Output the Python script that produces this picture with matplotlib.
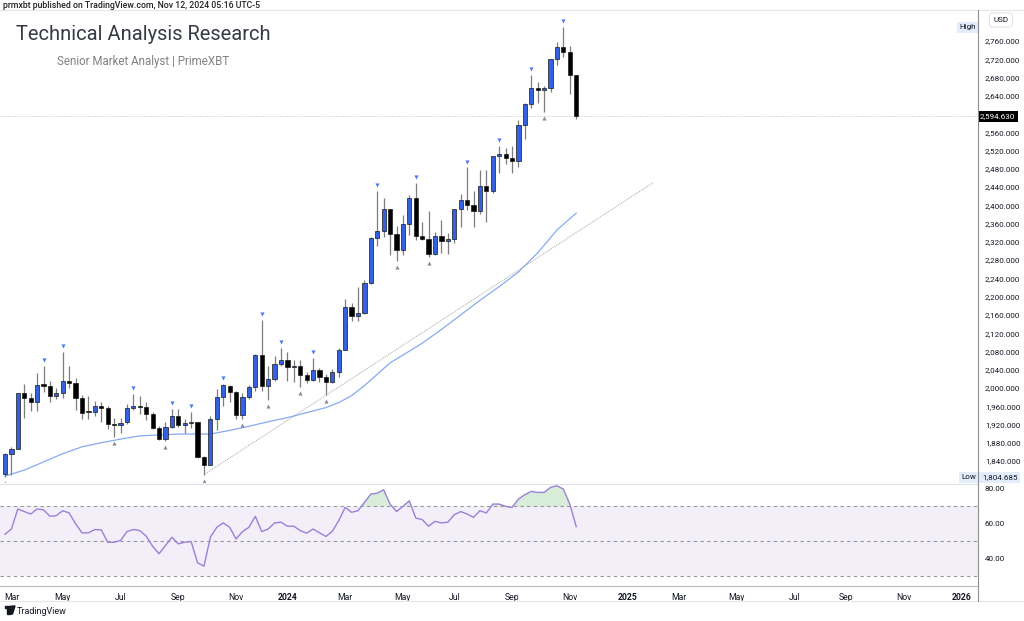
import numpy as np
import pandas as pd
import matplotlib
matplotlib.use('Agg')
import matplotlib.pyplot as plt
import matplotlib.dates as mdates
from matplotlib.lines import Line2D
from matplotlib.patches import Rectangle, Circle, Polygon

# weekly gold candles (Feb 27 2023 .. Nov 11 2024)
opens = [1811, 1856, 1867, 1988, 1978, 1969, 2008, 2004, 1983, 1989,
         2016, 2011, 1977, 1949, 1948, 1960, 1957, 1921, 1919, 1925,
         1955, 1961, 1959, 1943, 1913, 1889, 1914, 1939, 1919, 1924,
         1925, 1848, 1832, 1932, 1981, 2005, 1992, 1940, 1980, 2001,
         2072, 2004, 2019, 2053, 2062, 2045, 2049, 2029, 2018, 2039,
         2024, 2013, 2035, 2083, 2178, 2157, 2165, 2230, 2329, 2344,
         2391, 2337, 2302, 2360, 2415, 2333, 2327, 2293, 2333, 2321,
         2326, 2391, 2411, 2400, 2387, 2443, 2431, 2507, 2512, 2503,
         2497, 2577, 2621, 2658, 2653, 2656, 2720, 2747, 2736, 2685]
highs = [1858, 1870, 1990, 2009, 1988, 2032, 2048, 2015, 2000, 2079,
         2048, 2022, 1985, 1983, 1971, 1970, 1960, 1935, 1935, 1964,
         1987, 1982, 1970, 1948, 1916, 1925, 1953, 1953, 1932, 1947,
         1926, 1851, 1938, 1997, 2009, 2007, 1993, 1988, 2007, 2075,
         2148, 2047, 2070, 2088, 2078, 2062, 2062, 2036, 2065, 2044,
         2031, 2041, 2088, 2195, 2185, 2222, 2236, 2330, 2431, 2417,
         2392, 2354, 2378, 2422, 2450, 2364, 2387, 2342, 2368, 2339,
         2392, 2424, 2483, 2432, 2477, 2477, 2509, 2531, 2525, 2529,
         2586, 2625, 2685, 2670, 2661, 2721, 2758, 2790, 2750, 2686]
lows = [1804.685, 1809, 1866, 1934, 1949, 1950, 1992, 1969, 1975, 1977,
        1999, 1952, 1932, 1932, 1938, 1925, 1910, 1893, 1902, 1922,
        1951, 1942, 1929, 1910, 1885, 1884, 1913, 1915, 1901, 1913,
        1846, 1810, 1832, 1908, 1961, 1970, 1933, 1931, 1976, 1994,
        1993, 1973, 2016, 2049, 2016, 2013, 2001, 2010, 2016, 2014,
        1984, 2010, 2024, 2083, 2146, 2146, 2163, 2228, 2310, 2330,
        2291, 2277, 2291, 2334, 2325, 2323, 2286, 2291, 2296, 2293,
        2318, 2353, 2390, 2353, 2380, 2364, 2428, 2470, 2491, 2471,
        2485, 2546, 2614, 2625, 2604, 2648, 2708, 2724, 2643, 2589]
closes = [1855, 1867, 1988, 1979, 1969, 2006, 2005, 1983, 1989, 2016,
          2011, 1977, 1946, 1947, 1960, 1957, 1921, 1919, 1924, 1955,
          1961, 1959, 1943, 1913, 1889, 1914, 1939, 1919, 1924, 1925,
          1848, 1832, 1932, 1981, 2006, 1992, 1940, 1980, 2001, 2072,
          2004, 2019, 2053, 2062, 2045, 2049, 2029, 2018, 2039, 2024,
          2013, 2035, 2083, 2178, 2157, 2165, 2230, 2329, 2344, 2391,
          2337, 2302, 2360, 2415, 2333, 2327, 2293, 2333, 2321, 2326,
          2391, 2411, 2400, 2387, 2443, 2431, 2507, 2512, 2503, 2497,
          2577, 2621, 2658, 2653, 2656, 2720, 2747, 2736, 2685, 2594.63]

# pivot markers (candle numbers)
pivot_high_idx = [6, 9, 20, 26, 29, 34, 40, 43, 48, 58, 64, 72, 77, 82, 87]
pivot_low_idx = [0, 17, 25, 31, 37, 41, 46, 50, 61, 66, 84]

# moving average, read at some candles
ma_idx = [0, 3, 6, 9, 12, 15, 18, 21, 24, 27, 30, 32, 35, 38, 41, 44, 47,
          50, 52, 54, 56, 58, 60, 62, 65, 68, 71, 74, 77, 80, 83, 86, 89]
ma_val = [1807, 1820, 1838, 1856, 1871, 1880, 1888, 1895, 1897, 1899, 1899,
          1899, 1907, 1916, 1926, 1935, 1946, 1957, 1968, 1983, 2005, 2030,
          2055, 2072, 2098, 2128, 2160, 2192, 2222, 2254, 2296, 2346, 2383]

# trend line drawn by the author: (candle, price)
trend_pts = [(31, 1810), (101, 2450)]

rsi = [54, 57, 68.5, 67, 65.6, 68.5, 68, 64.3, 64.7, 67.5,
       66.2, 60, 54.8, 54.8, 56.7, 56.5, 49.4, 49.4, 50.4, 55.5,
       56.7, 56.1, 52.9, 47.1, 42.8, 47.5, 52.3, 48.5, 49.4, 49.8,
       37.6, 35.7, 52.3, 58, 60.5, 58, 51.3, 55.5, 58, 64.3,
       55.5, 57, 60.5, 60.9, 58.6, 58.6, 56.1, 54.6, 57, 54.8,
       52.7, 55.7, 61.8, 69.4, 66.6, 67.5, 72.3, 77, 77.6, 79.5,
       71.3, 67, 70, 73.2, 63.3, 62.4, 58.6, 61.4, 60.5, 60.9,
       65.2, 67, 65.6, 63.7, 67.5, 66.2, 71.3, 71.3, 70, 69.4,
       74.2, 76.7, 78.6, 78, 78, 80.9, 81.8, 79.9, 71.3, 58.4]

last_price = 2594.63
low_price = 1804.685

W, H = 1024, 621
def fx(px):
    return px / W
def fy(py):
    return 1 - py / H

plt.rcParams['font.family'] = ['Roboto', 'DejaVu Sans']
LBL = 5.8

fig = plt.figure(figsize=(W / 100, H / 100), dpi=100)
ax = fig.add_axes([0, fy(483), fx(978), (483 - 10) / H])
ax_rsi = fig.add_axes([0, fy(586), fx(978), (586 - 483) / H], sharex=ax)

start = pd.Timestamp('2023-02-27')
dates = pd.date_range(start, periods=len(closes), freq='7D')
x = mdates.date2num(dates)
o = np.array(opens, float)
h = np.array(highs, float)
l = np.array(lows, float)
c = np.array(closes, float)

def idx_x(i):
    return mdates.date2num(start + pd.Timedelta(days=7 * i))

up = c >= o
up_col = '#3461E0'
body_h = np.where(np.abs(c - o) < 2.5, np.where(up, 2.5, -2.5), c - o)

ax.vlines(x, l, h, color='#7d7d7d', lw=0.9, zorder=2)
ax.bar(x, body_h, bottom=o, width=4.6,
       color=np.where(up, up_col, '#000000'),
       edgecolor='#1a1a1a', linewidth=0.5, zorder=3)

# pivots
ph = np.array(pivot_high_idx)
pl = np.array(pivot_low_idx)
ax.scatter(x[ph], h[ph] + 13, marker='v', s=9, color='#4d7cf2', lw=0, zorder=4)
ax.scatter(x[pl], l[pl] - 13, marker='^', s=9, color='#8a8d96', lw=0, zorder=4)

# moving average
ax.plot(x[ma_idx], ma_val, color='#86abf3', lw=0.9, zorder=1)

# trend line
ax.plot([idx_x(p[0]) for p in trend_pts], [p[1] for p in trend_pts],
        color='#a8a8a8', lw=0.7, ls=(0, (1, 1)), zorder=1)

# current price line
ax.axhline(last_price, color='#cfc4c4', lw=0.7, ls=(0, (1, 1.5)), zorder=0)

x_left = idx_x(-0.78)
x_right = idx_x(151.6)
ax.set_xlim(x_left, x_right)
ax.set_ylim(1791.8, 2827.9)

yt = [v for v in range(1840, 2761, 40) if v != 2600]
ax.set_yticks(yt)
ax.set_yticklabels([f'{v:,.3f}' for v in yt])
ax.tick_params(axis='y', left=False, labelleft=False, right=True,
               labelright=True, length=0, pad=5, labelsize=LBL,
               labelcolor='#131722')
ax.tick_params(axis='x', bottom=False, labelbottom=False)
for s in ax.spines.values():
    s.set_visible(False)

# price labels on the axis
ax.text(1.002, last_price, '2,594.630', transform=ax.get_yaxis_transform(),
        fontsize=LBL, color='white', va='center', ha='left', clip_on=False,
        bbox=dict(boxstyle='square,pad=0.3', fc='#000000', ec='none'))
ax.text(1.004, low_price, '1,804.685', transform=ax.get_yaxis_transform(),
        fontsize=LBL, color='#131722', va='center', ha='left', clip_on=False,
        bbox=dict(boxstyle='square,pad=0.3', fc='#e3ecfb', ec='none'))
ax.text(0.998, low_price, 'Low', transform=ax.get_yaxis_transform(),
        fontsize=LBL, color='#131722', va='center', ha='right', clip_on=False,
        bbox=dict(boxstyle='square,pad=0.3', fc='#e3ecfb', ec='none'))
ax.text(0.998, max(highs), 'High', transform=ax.get_yaxis_transform(),
        fontsize=LBL, color='#131722', va='center', ha='right', clip_on=False,
        bbox=dict(boxstyle='square,pad=0.3', fc='#e3ecfb', ec='none'))

# RSI pane
xr = np.array(x)
rs = np.array(rsi)
ax_rsi.axhspan(30, 70, color='#7E57C2', alpha=0.09, lw=0)
for lev in (70, 50, 30):
    ax_rsi.axhline(lev, color='#9598a1', lw=0.8, ls=(0, (3, 3)))
ax_rsi.fill_between(xr, rs, 70, where=rs > 70, interpolate=True,
                    color='#4caf50', alpha=0.22, lw=0)
ax_rsi.plot(xr, rs, color='#9a80d8', lw=1.0)
ax_rsi.set_ylim(24.3, 83.4)
ax_rsi.set_yticks([40, 60, 80])
ax_rsi.set_yticklabels(['40.00', '60.00', '80.00'])
ax_rsi.tick_params(axis='y', left=False, labelleft=False, right=True,
                   labelright=True, length=0, pad=5, labelsize=LBL,
                   labelcolor='#131722')
for s in ax_rsi.spines.values():
    s.set_visible(False)

# time axis: first Monday of every other month
months = pd.date_range('2023-03-01', '2026-01-01', freq='2MS')
tick_dates, tick_labels = [], []
for m in months:
    d = m + pd.Timedelta(days=(0 - m.weekday()) % 7)
    tick_dates.append(mdates.date2num(d))
    tick_labels.append(str(m.year) if m.month == 1 else m.strftime('%b'))
ax_rsi.set_xticks(tick_dates)
ax_rsi.set_xticklabels(tick_labels)
ax_rsi.tick_params(axis='x', length=0, pad=5, labelsize=6.2,
                   labelcolor='#131722')
for t in ax_rsi.get_xticklabels():
    if t.get_text().isdigit():
        t.set_fontweight('bold')
ax_rsi.set_xlim(x_left, x_right)

# frame lines
def hline(py, x0, x1, col, lw=0.8):
    fig.add_artist(Line2D([fx(x0), fx(x1)], [fy(py), fy(py)], color=col, lw=lw))
hline(10, 0, 1024, '#e6e6e6')
hline(483.5, 0, 978, '#e0e3eb')
hline(586, 0, 978, '#b8bbc4')
hline(601, 0, 1024, '#e6e6e6')
fig.add_artist(Line2D([fx(978), fx(978)], [fy(10), fy(601)], color='#8f8f8f', lw=0.8))

# USD box
fig.text(fx(1001), fy(20), 'USD', fontsize=LBL, color='#131722', ha='center',
         va='center', bbox=dict(boxstyle='round,pad=0.5', fc='white',
                                ec='#e0e3eb', lw=0.8))

# header texts
fig.text(fx(3), fy(5), 'prmxbt published on TradingView.com, Nov 12, 2024 05:16 UTC-5',
         fontsize=6.3, fontweight='medium', color='#222222', ha='left', va='center')
fig.text(fx(16), fy(35), 'Technical Analysis Research', fontsize=14.5,
         color='#363a45', ha='left', va='center')
fig.text(fx(143.5), fy(62), 'Senior Market Analyst | PrimeXBT', fontsize=8.3,
         color='#808080', ha='center', va='center')

# footer logo + name
logo_col = '#131722'
fig.add_artist(Rectangle((fx(5), fy(608)), fx(4.5), 2 / H, transform=fig.transFigure,
                         color=logo_col))
fig.add_artist(Rectangle((fx(7), fy(614)), fx(2.5), 6 / H, transform=fig.transFigure,
                         color=logo_col))
fig.add_artist(Circle((fx(11), fy(607)), 1.1 / W, transform=fig.transFigure,
                      color=logo_col))
fig.add_artist(Polygon([(fx(12.5), fy(606)), (fx(15), fy(606)), (fx(12.5), fy(614)),
                        (fx(10.3), fy(614))], closed=True, transform=fig.transFigure,
                       color=logo_col))
fig.text(fx(17), fy(611), 'TradingView', fontsize=6.5, color=logo_col,
         ha='left', va='center')

fig.savefig('out.png', dpi=100)
